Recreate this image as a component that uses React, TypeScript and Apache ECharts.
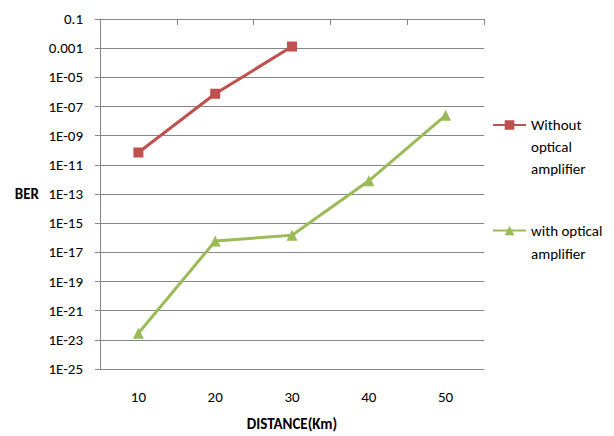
import React, { useEffect, useRef } from "react";
import * as echarts from "echarts";

const categories = ["10", "20", "30", "40", "50"];
const withoutAmp = [7e-11, 7.5e-7, 1.3e-3, null, null];
const withAmp = [2.8e-23, 5.9e-17, 1.5e-16, 8e-13, 2.5e-8];
const yTickLabels = [
  "1E-25", "1E-23", "1E-21", "1E-19", "1E-17", "1E-15", "1E-13",
  "1E-11", "1E-09", "1E-07", "1E-05", "0.001", "0.1",
];
const seriesNames = ["Without optical amplifier", "with optical amplifier"];
const legendTexts = ["Without\noptical\namplifier", "with optical\namplifier"];

const FONT = "Carlito, Calibri, 'Liberation Sans', sans-serif";
const FS = 15;
const GRID = "#868686";
const RED = "#C0504D";
const GREEN = "#9BBB59";

const toExp = (arr: (number | null)[]) => arr.map((v) => (v == null ? null : Math.log10(v)));
// prepend blank lines so that the first text line is centred on the legend icon
const topAlign = (s: string) => "\n".repeat(s.split("\n").length - 1) + s;

export default function App() {
  const ref = useRef<HTMLDivElement>(null);
  useEffect(() => {
    document.body.style.margin = "0";
    if (!ref.current) return;
    const chart = echarts.init(ref.current, null, { renderer: "svg" });
    chart.setOption({
      animation: false,
      backgroundColor: "#ffffff",
      textStyle: { fontFamily: FONT },
      grid: { left: 100, right: 130, top: 19, bottom: 67, containLabel: false },
      xAxis: [
        {
          type: "category",
          data: categories,
          position: "bottom",
          boundaryGap: true,
          axisLine: { show: false },
          axisTick: { show: false },
          axisLabel: { color: "#000", fontSize: FS, margin: 20, fontFamily: FONT },
          name: "DISTANCE(Km)",
          nameLocation: "middle",
          nameGap: 47,
          nameTextStyle: { color: "#000", fontSize: FS, fontWeight: "bold", fontFamily: FONT },
        },
        {
          type: "category",
          data: categories,
          position: "top",
          boundaryGap: true,
          axisLine: { show: true, lineStyle: { color: GRID, width: 1 } },
          axisTick: { show: true, inside: true, length: 6, lineStyle: { color: GRID } },
          axisLabel: { show: false },
        },
      ],
      yAxis: {
        type: "value",
        min: -25,
        max: -1,
        interval: 2,
        axisLine: { show: true, lineStyle: { color: GRID, width: 1 } },
        axisTick: { show: true, length: 5, lineStyle: { color: GRID } },
        splitLine: { show: true, lineStyle: { color: GRID, width: 1 } },
        axisLabel: {
          color: "#000",
          fontSize: FS,
          margin: 17,
          fontFamily: FONT,
          formatter: (v: number) => yTickLabels[Math.round((v + 25) / 2)] ?? "",
        },
        name: "BER",
        nameLocation: "middle",
        nameRotate: 0,
        nameGap: 61,
        nameTextStyle: { color: "#000", fontSize: FS, fontWeight: "bold", fontFamily: FONT, align: "right" },
      },
      legend: [
        {
          data: [seriesNames[0]],
          orient: "vertical",
          left: 492,
          top: 70,
          padding: 0,
          itemWidth: 33,
          itemHeight: 12,
          formatter: () => topAlign(legendTexts[0]),
          textStyle: { color: "#000", fontSize: FS, lineHeight: 22, fontFamily: FONT },
        },
        {
          data: [seriesNames[1]],
          orient: "vertical",
          left: 492,
          top: 196,
          padding: 0,
          itemWidth: 33,
          itemHeight: 12,
          formatter: () => topAlign(legendTexts[1]),
          textStyle: { color: "#000", fontSize: FS, lineHeight: 23, fontFamily: FONT },
        },
      ],
      series: [
        {
          name: seriesNames[0],
          type: "line",
          xAxisIndex: 0,
          data: toExp(withoutAmp),
          symbol: "rect",
          symbolSize: 10,
          lineStyle: { color: RED, width: 3 },
          itemStyle: { color: RED },
          connectNulls: false,
        },
        {
          name: seriesNames[1],
          type: "line",
          xAxisIndex: 0,
          data: toExp(withAmp),
          symbol: "triangle",
          symbolSize: 11,
          lineStyle: { color: GREEN, width: 3 },
          itemStyle: { color: GREEN },
        },
      ],
    });
    return () => chart.dispose();
  }, []);
  return <div ref={ref} style={{ width: 614, height: 436 }} />;
}
